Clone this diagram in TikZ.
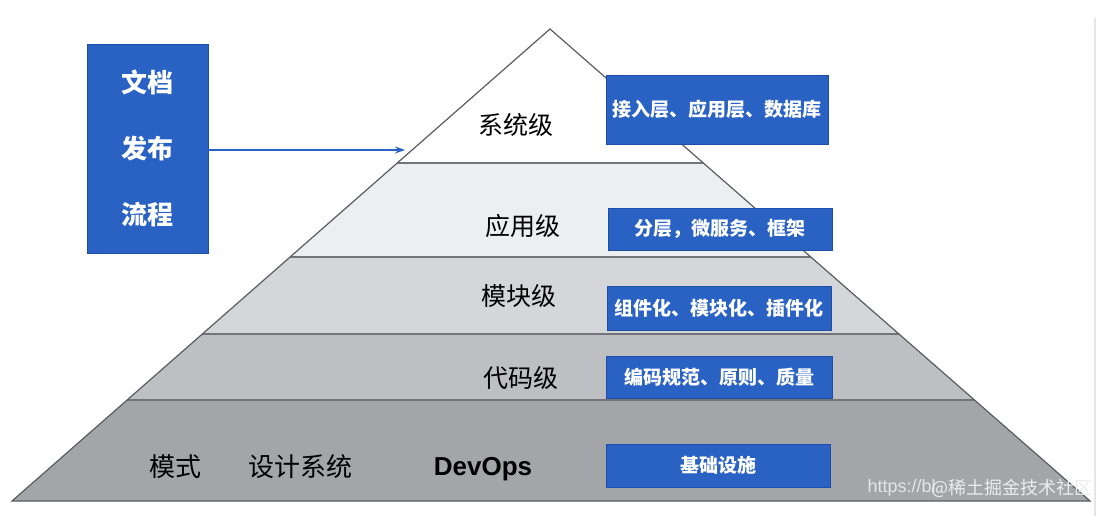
\documentclass[tikz,border=0pt]{standalone}
\usepackage{fontspec}
\setmainfont{Liberation Sans}
\newfontfamily\cjk{Noto Sans CJK SC}
\usetikzlibrary{calc,arrows.meta}
\definecolor{boxblue}{HTML}{2A62C4}
\definecolor{boxline}{HTML}{1E4EA6}
\definecolor{layA}{HTML}{FFFFFF}
\definecolor{layB}{HTML}{EDEEF0}
\definecolor{layC}{HTML}{D4D6D9}
\definecolor{layD}{HTML}{BDBFC2}
\definecolor{layE}{HTML}{A4A5A8}
\definecolor{edgegray}{HTML}{5A5C62}
\begin{document}
\begin{tikzpicture}[>={Stealth[length=10pt,width=7pt]},x=1pt,y=-1pt,
    edge/.style={draw=edgegray,line width=1.2pt},
    tagbox/.style={fill=boxblue,draw=boxline,line width=0.8pt,inner sep=0pt,
      text=white,font=\cjk\bfseries\fontsize{19}{21}\selectfont},
    lvl/.style={font=\cjk\fontsize{25}{28}\selectfont,text=black}]
    \useasboundingbox (0,0) rectangle (1112,516);
    \fill[white] (0,0) rectangle (1112,516);
    \draw[gray!20,line width=1.5pt] (1095,18)--(1095,516);
    % pyramid corners, layers cut at fractions of the slope
    \coordinate (apex) at (550,29);
    \coordinate (bl) at (12,501);
    \coordinate (br) at (1090,501);
    \foreach \ta/\tb/\col in {0/0.2839/layA,0.2839/0.4831/layB,0.4831/0.6462/layC,
                              0.6462/0.7860/layD,0.7860/1/layE}{
      \fill[\col] ($(apex)!\ta!(bl)$) -- ($(apex)!\tb!(bl)$) -- ($(apex)!\tb!(br)$) -- ($(apex)!\ta!(br)$) -- cycle;
    }
    \foreach \tb in {0.2839,0.4831,0.6462,0.7860}{
      \draw[edge,draw=edgegray!85] ($(apex)!\tb!(bl)$) -- ($(apex)!\tb!(br)$);
    }
    \draw[edge] (bl) -- (apex) -- (br) -- cycle;
    % level names
    \node[lvl] (sys) at (516,125) {系统级};
    \node[lvl] (app) at (523,226) {应用级};
    \node[lvl] (mod) at (519,296) {模块级};
    \node[lvl] (code) at (521,378) {代码级};
    \node[lvl,font=\cjk\fontsize{26}{28}\selectfont] (pat) at (175,467) {模式};
    \node[lvl,font=\cjk\fontsize{26}{28}\selectfont] (dsys) at (300,467) {设计系统};
    \node[font=\bfseries\fontsize{26}{28}\selectfont] (ops) at (483,469) {DevOps};
    % blue tags on the right
    \node[tagbox,minimum width=222pt,minimum height=69pt] (t1) at (717,109.5) {接入层、应用层、数据库};
    \node[tagbox,minimum width=224pt,minimum height=42pt] (t2) at (720,229) {分层，微服务、框架};
    \node[tagbox,minimum width=224pt,minimum height=44pt] (t3) at (719,308) {组件化、模块化、插件化};
    \node[tagbox,minimum width=226pt,minimum height=42pt] (t4) at (719,377) {编码规范、原则、质量};
    \node[tagbox,minimum width=224pt,minimum height=43pt] (t5) at (718,465.5) {基础设施};
    % document flow box
    \node[tagbox,minimum width=121pt,minimum height=209pt,align=center,
      font=\cjk\bfseries\fontsize{26}{66}\selectfont] (doc) at (147.5,148.5) {文档\\发布\\流程};
    \coordinate (docin) at (405,150);
    \draw[->,boxblue,line width=1.8pt] (doc.east |- docin) -- (docin);
    % watermark
    \node[anchor=west,text=white!80!gray,font=\fontsize{18}{20}\selectfont] (wm1) at (864,488) {https://bl};
    \node[anchor=east,text=white!85!gray,font=\cjk\fontsize{18}{20}\selectfont] (wm2) at (1096,488) {@稀土掘金技术社区};
  \end{tikzpicture}
\end{document}
